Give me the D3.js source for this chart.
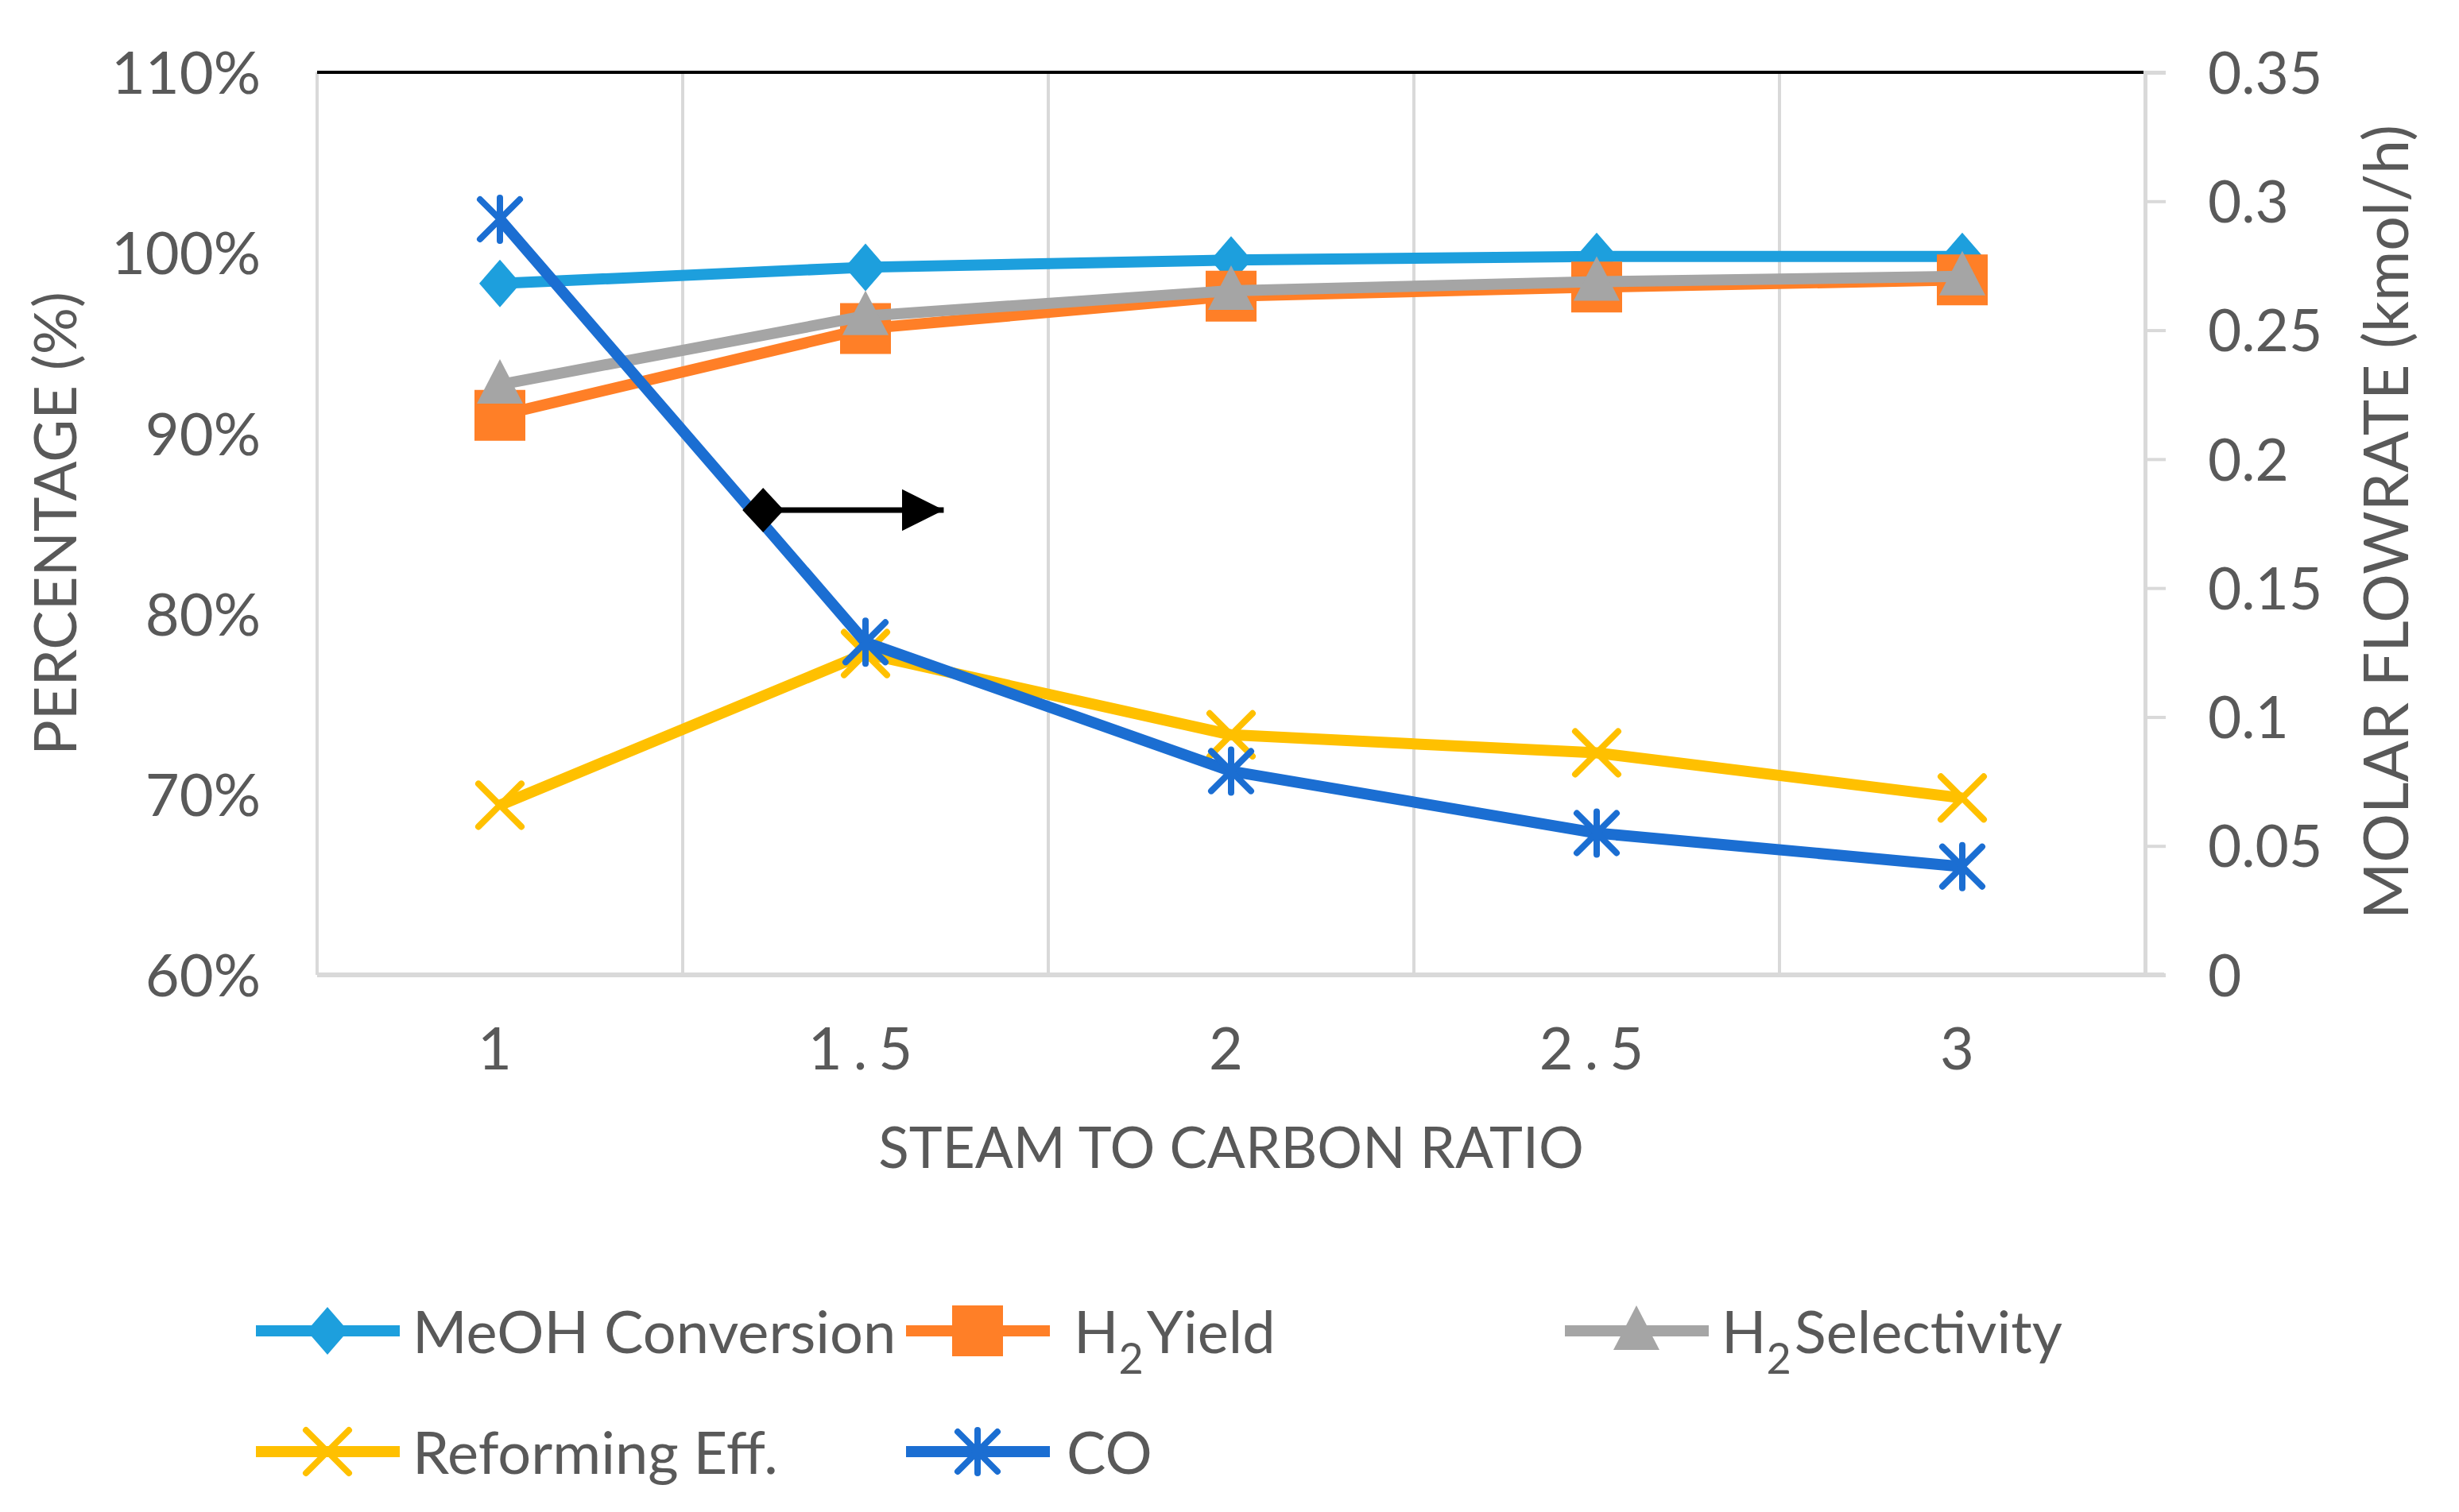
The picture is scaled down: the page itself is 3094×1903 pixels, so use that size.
<!DOCTYPE html>
<html>
<head>
<meta charset="utf-8">
<script src="https://cdn.jsdelivr.net/npm/d3@7"></script>
<style>
  body { margin: 0; background: #fff; }
  text { font-family: Lato, "Open Sans", sans-serif; fill: #595959; }
</style>
</head>
<body>
<svg id="chart" width="3094" height="1903"></svg>
<script>
// steam to carbon ratio (x categories)
const ratios = [1, 1.5, 2, 2.5, 3];
const ratioLabels = ["1", "1.5", "2", "2.5", "3"];

// left axis series (%)
const meohConversion = [98.3, 99.2, 99.6, 99.8, 99.8];
const h2Yield = [91.0, 95.8, 97.6, 98.1, 98.5];
const h2Selectivity = [92.7, 96.5, 97.9, 98.4, 98.7];
const reformingEff = [69.4, 77.8, 73.3, 72.3, 69.8];

// right axis series (kmol/h)
const coFlow = [0.293, 0.129, 0.079, 0.055, 0.042];

const leftTicks = [60, 70, 80, 90, 100, 110];
const rightTicks = [0, 0.05, 0.1, 0.15, 0.2, 0.25, 0.3, 0.35];
const gridBreaks = [0.75, 1.25, 1.75, 2.25, 2.75, 3.25];

// arrow pointing CO to the right axis: [ratio, percent]
const arrowFrom = [1.36, 85.75];
const arrowTo = [1.607, 85.75];

const svg = d3.select('#chart');
const plotLeft = 399, plotRight = 2699, plotTop = 91, plotBottom = 1227;

const x = d3.scaleLinear().domain([0.75, 3.25]).range([plotLeft, plotRight]);
const yLeft = d3.scaleLinear().domain([60, 110]).range([plotBottom, plotTop]);
const yRight = d3.scaleLinear().domain([0, 0.35]).range([plotBottom, plotTop]);

// vertical gridlines at category boundaries
svg.append('g')
  .selectAll('line')
  .data(gridBreaks)
  .enter()
  .append('line')
  .attr('x1', d => x(d)).attr('x2', d => x(d))
  .attr('y1', plotTop).attr('y2', plotBottom)
  .style('stroke', '#d9d9d9')
  .style('stroke-width', 4);

// bottom axis line
svg.append('line')
  .attr('x1', plotLeft).attr('x2', plotRight + 24)
  .attr('y1', plotBottom).attr('y2', plotBottom)
  .style('stroke', '#d9d9d9').style('stroke-width', 6);

// top black line at 110%
svg.append('line')
  .attr('x1', plotLeft).attr('x2', plotRight)
  .attr('y1', yLeft(110)).attr('y2', yLeft(110))
  .style('stroke', '#000').style('stroke-width', 4);

// left axis
const gLeft = svg.append('g')
  .attr('transform', 'translate(' + (plotLeft - 71) + ',0)')
  .call(d3.axisLeft(yLeft).tickValues(leftTicks).tickSize(0).tickFormat(d => d + '%'));
gLeft.select('.domain').remove();
gLeft.selectAll('text')
  .attr('x', 0).attr('dy', '0.36em')
  .style('font-size', '74px').style('fill', '#595959')
  .style('font-family', 'Lato, sans-serif');

// right axis
const gRight = svg.append('g')
  .attr('transform', 'translate(' + plotRight + ',0)')
  .call(d3.axisRight(yRight).tickValues(rightTicks).tickSize(26).tickFormat(d => d === 0 ? '0' : String(+d.toFixed(2))));
gRight.select('.domain').style('stroke', '#d9d9d9').style('stroke-width', 5);
gRight.selectAll('.tick line').style('stroke', '#d9d9d9').style('stroke-width', 4);
gRight.selectAll('text')
  .attr('x', 79).attr('dy', '0.36em')
  .style('font-size', '73px').style('fill', '#595959')
  .style('font-family', 'Lato, sans-serif');

// x tick labels
const gBottom = svg.append('g')
  .attr('transform', 'translate(0,' + plotBottom + ')')
  .call(d3.axisBottom(x).tickValues(ratios).tickSize(0).tickFormat((d, i) => ratioLabels[i]));
gBottom.select('.domain').remove();
gBottom.selectAll('text')
  .attr('y', 119).attr('dy', 0)
  .style('font-size', '74px').style('fill', '#595959')
  .style('letter-spacing', '14px')
  .style('font-family', 'Lato, sans-serif');

// axis titles
svg.append('text')
  .attr('x', x(2)).attr('y', 1470)
  .attr('text-anchor', 'middle')
  .style('font-size', '71px')
  .text('STEAM TO CARBON RATIO');

svg.append('text')
  .attr('transform', 'translate(96,659) rotate(-90)')
  .attr('text-anchor', 'middle')
  .style('font-size', '74px')
  .text('PERCENTAGE (%)');

svg.append('text')
  .attr('transform', 'translate(3030,657) rotate(-90)')
  .attr('text-anchor', 'middle')
  .style('font-size', '77px')
  .text('MOLAR FLOWRATE (kmol/h)');

// marker shapes
function markerPath(type) {
  if (type === 'diamond') return 'M0,-30L26,0L0,30L-26,0Z';
  if (type === 'square') return 'M-32,-32H32V32H-32Z';
  if (type === 'triangle') return 'M0,-32L29,24H-29Z';
  if (type === 'x') return 'M-27,-27L27,27M-27,27L27,-27';
  if (type === 'star') return 'M-25,-25L25,25M-25,25L25,-25M0,-27V27';
}
const filled = t => t === 'diamond' || t === 'square' || t === 'triangle';

const series = [
  { name: 'MeOH Conversion', values: meohConversion, color: '#1d9fdd', marker: 'diamond', axis: yLeft },
  { name: 'H2 Yield', values: h2Yield, color: '#ff7f27', marker: 'square', axis: yLeft },
  { name: 'H2 Selectivity', values: h2Selectivity, color: '#a5a5a5', marker: 'triangle', axis: yLeft },
  { name: 'Reforming Eff.', values: reformingEff, color: '#ffc000', marker: 'x', axis: yLeft },
  { name: 'CO', values: coFlow, color: '#1b6ed2', marker: 'star', axis: yRight }
];

series.forEach(s => {
  const pts = ratios.map((r, i) => [r, s.values[i]]);
  const line = d3.line().x(d => x(d[0])).y(d => s.axis(d[1]));
  const g = svg.append('g');
  g.append('path')
    .attr('d', line(pts))
    .style('fill', 'none')
    .style('stroke', s.color)
    .style('stroke-width', 14)
    .style('stroke-linejoin', 'round');
  g.selectAll('path.mk')
    .data(pts)
    .enter()
    .append('path')
    .classed('mk', true)
    .attr('transform', d => 'translate(' + x(d[0]) + ',' + s.axis(d[1]) + ')')
    .attr('d', markerPath(s.marker))
    .style('fill', filled(s.marker) ? s.color : 'none')
    .style('stroke', s.color)
    .style('stroke-width', filled(s.marker) ? 0 : 8)
    .style('stroke-linecap', 'round');
});

// arrow annotation
svg.append('defs').append('marker')
  .attr('id', 'head')
  .attr('viewBox', '0 0 10 10')
  .attr('refX', 10).attr('refY', 5)
  .attr('markerWidth', 7.5).attr('markerHeight', 7.5)
  .attr('markerUnits', 'strokeWidth')
  .attr('orient', 'auto')
  .append('path').attr('d', 'M0,0L10,5L0,10Z').style('fill', '#000');

svg.append('line')
  .attr('x1', x(arrowFrom[0])).attr('y1', yLeft(arrowFrom[1]))
  .attr('x2', x(arrowTo[0]) - 20).attr('y2', yLeft(arrowTo[1]))
  .style('stroke', '#000').style('stroke-width', 7);
svg.append('line')
  .attr('x1', x(arrowTo[0]) - 30).attr('y1', yLeft(arrowTo[1]))
  .attr('x2', x(arrowTo[0])).attr('y2', yLeft(arrowTo[1]))
  .style('stroke', '#000').style('stroke-width', 7)
  .attr('marker-end', 'url(#head)');
svg.append('path')
  .attr('transform', 'translate(' + x(arrowFrom[0]) + ',' + yLeft(arrowFrom[1]) + ')')
  .attr('d', 'M0,-28L26,0L0,28L-26,0Z')
  .style('fill', '#000');

// legend
const legendItems = [
  { s: series[0], lx: 322, ly: 1675, tx: 197, label: ['MeOH Conversion'] },
  { s: series[1], lx: 1140, ly: 1675, tx: 211, label: ['H', '2', 'Yield'] },
  { s: series[2], lx: 1969, ly: 1675, tx: 197, label: ['H', '2', 'Selectivity'] },
  { s: series[3], lx: 322, ly: 1827, tx: 197, label: ['Reforming Eff.'] },
  { s: series[4], lx: 1140, ly: 1827, tx: 202, label: ['CO'] }
];

const legend = svg.append('g');
legendItems.forEach(item => {
  const g = legend.append('g').attr('transform', 'translate(' + item.lx + ',' + item.ly + ')');
  g.append('line')
    .attr('x1', 0).attr('x2', 181).attr('y1', 0).attr('y2', 0)
    .style('stroke', item.s.color).style('stroke-width', 14);
  g.append('path')
    .attr('transform', 'translate(90,0)')
    .attr('d', markerPath(item.s.marker))
    .style('fill', filled(item.s.marker) ? item.s.color : 'none')
    .style('stroke', item.s.color)
    .style('stroke-width', filled(item.s.marker) ? 0 : 8)
    .style('stroke-linecap', 'round');
  const t = g.append('text')
    .attr('x', item.tx)
    .attr('y', 28)
    .style('font-size', '74px');
  if (item.label.length === 1) {
    t.text(item.label[0]);
  } else {
    t.append('tspan').text(item.label[0]);
    t.append('tspan').attr('dy', 26).style('font-size', '54px').text(item.label[1]);
    t.append('tspan').attr('dy', -26).attr('dx', 4).text(item.label[2]);
  }
});
</script>
</body>
</html>
